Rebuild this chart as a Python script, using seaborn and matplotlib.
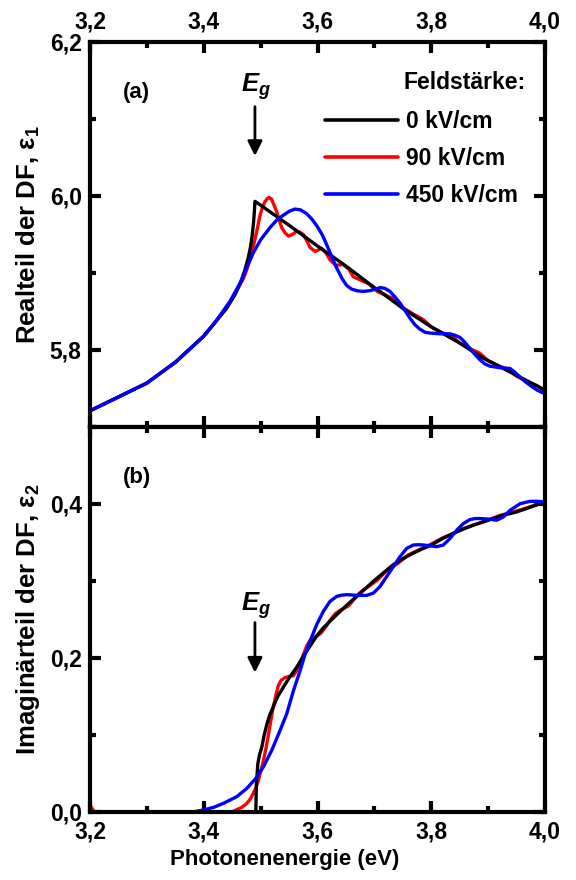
import matplotlib
matplotlib.use("Agg")
import matplotlib.pyplot as plt
from matplotlib.ticker import MultipleLocator, FuncFormatter
from matplotlib.lines import Line2D
import pandas as pd
import seaborn as sns

# ---------------- data: real part eps1 ----------------
e1_E_0 = [3.20, 3.25, 3.30, 3.35, 3.40, 3.42, 3.44, 3.455, 3.465, 3.472, 3.478,
          3.482, 3.485, 3.4875, 3.489, 3.490, 3.50, 3.55, 3.60, 3.65, 3.70,
          3.71, 3.75, 3.80, 3.85, 3.89, 3.95, 4.00]
e1_V_0 = [5.721, 5.739, 5.757, 5.784, 5.818, 5.836, 5.854, 5.872, 5.888, 5.903,
          5.919, 5.933, 5.948, 5.965, 5.980, 5.993, 5.988, 5.962, 5.935, 5.909,
          5.881, 5.876, 5.854, 5.830, 5.809, 5.790, 5.767, 5.748]

e1_E_90 = [3.20, 3.25, 3.30, 3.35, 3.40, 3.42, 3.44, 3.46, 3.47, 3.476, 3.482,
           3.488, 3.494, 3.499, 3.504, 3.508, 3.512, 3.515, 3.519, 3.522, 3.528,
           3.533, 3.537, 3.543, 3.549, 3.556, 3.563, 3.569, 3.575, 3.581, 3.587,
           3.596, 3.607, 3.615, 3.622, 3.632, 3.645, 3.655, 3.663, 3.675, 3.69,
           3.705, 3.72, 3.735, 3.75, 3.77, 3.785, 3.80, 3.82, 3.835, 3.85, 3.87,
           3.885, 3.90, 3.92, 3.935, 3.95, 3.97, 3.985, 4.00]
e1_V_90 = [5.721, 5.739, 5.757, 5.784, 5.818, 5.836, 5.854, 5.880, 5.893, 5.905,
           5.920, 5.937, 5.957, 5.975, 5.987, 5.993, 5.997, 5.998, 5.996, 5.991,
           5.980, 5.968, 5.959, 5.952, 5.948, 5.950, 5.954, 5.953, 5.950, 5.942,
           5.933, 5.928, 5.932, 5.926, 5.917, 5.910, 5.911, 5.905, 5.895, 5.891,
           5.886, 5.876, 5.871, 5.866, 5.855, 5.846, 5.840, 5.830, 5.822, 5.819,
           5.809, 5.801, 5.796, 5.786, 5.779, 5.775, 5.766, 5.758, 5.754, 5.747]

e1_E_450 = [3.20, 3.25, 3.30, 3.35, 3.40, 3.42, 3.446, 3.464, 3.475, 3.487,
            3.50, 3.5165, 3.530, 3.540, 3.550, 3.560, 3.570, 3.581, 3.590,
            3.599, 3.608, 3.616, 3.625, 3.634, 3.643, 3.651, 3.660, 3.669, 3.680,
            3.692, 3.702, 3.710, 3.7185, 3.7275, 3.736, 3.745, 3.754, 3.763,
            3.771, 3.780, 3.789, 3.798, 3.815, 3.833, 3.842, 3.851, 3.859, 3.868,
            3.877, 3.886, 3.894, 3.903, 3.920, 3.9385, 3.947, 3.956, 3.965,
            3.974, 3.986, 4.00]
e1_V_450 = [5.721, 5.739, 5.757, 5.784, 5.818, 5.836, 5.863, 5.887, 5.906, 5.926,
            5.943, 5.959, 5.970, 5.975, 5.980, 5.983, 5.982, 5.977, 5.970,
            5.961, 5.950, 5.937, 5.921, 5.906, 5.893, 5.884, 5.879, 5.877, 5.876,
            5.877, 5.879, 5.881, 5.880, 5.876, 5.869, 5.861, 5.851, 5.841,
            5.833, 5.827, 5.823, 5.822, 5.821, 5.821, 5.819, 5.816, 5.810, 5.802,
            5.794, 5.787, 5.782, 5.779, 5.777, 5.776, 5.771, 5.765, 5.759,
            5.754, 5.748, 5.743]

# ---------------- data: imaginary part eps2 ----------------
e2_E_0 = [3.20, 3.40, 3.4915, 3.4925, 3.495, 3.498, 3.502, 3.506, 3.511, 3.516,
          3.522, 3.530, 3.540, 3.550, 3.563, 3.575, 3.587, 3.598, 3.610, 3.625,
          3.640, 3.655, 3.669, 3.684, 3.698, 3.715, 3.733, 3.750, 3.768, 3.785,
          3.80, 3.822, 3.845, 3.872, 3.90, 3.925, 3.95, 3.975, 4.00]
e2_V_0 = [0.0, 0.0, 0.0, 0.035, 0.062, 0.074, 0.084, 0.099, 0.114, 0.126,
          0.136, 0.150, 0.162, 0.174, 0.1875, 0.202, 0.2155, 0.228, 0.239, 0.250,
          0.2606, 0.271, 0.280, 0.290, 0.2994, 0.310, 0.321, 0.329, 0.336, 0.342,
          0.3465, 0.356, 0.364, 0.372, 0.379, 0.385, 0.3897, 0.396, 0.4026]

e2_E_90 = [3.200, 3.204, 3.208, 3.45, 3.458, 3.467, 3.4755, 3.482, 3.487, 3.492,
           3.496, 3.500, 3.505, 3.510, 3.514, 3.518, 3.522, 3.527, 3.531, 3.536,
           3.543, 3.550, 3.5575, 3.563, 3.569, 3.575, 3.581, 3.587, 3.593, 3.600,
           3.607, 3.616, 3.625, 3.632, 3.640, 3.648, 3.655, 3.663, 3.672, 3.68,
           3.69, 3.705, 3.725, 3.74, 3.76, 3.78, 3.80, 3.82, 3.84, 3.86, 3.88,
           3.90, 3.92, 3.94, 3.96, 3.98, 4.00]
e2_V_90 = [0.009, 0.004, 0.0, 0.0, 0.003, 0.006, 0.011, 0.017, 0.024, 0.032,
           0.041, 0.052, 0.067, 0.085, 0.1015, 0.119, 0.136, 0.152, 0.164, 0.171,
           0.1746, 0.176, 0.177, 0.183, 0.192, 0.204, 0.2155, 0.223, 0.226, 0.229,
           0.233, 0.242, 0.252, 0.258, 0.262, 0.265, 0.268, 0.275, 0.283, 0.288,
           0.293, 0.301, 0.316, 0.322, 0.334, 0.341, 0.348, 0.356, 0.362, 0.369,
           0.374, 0.379, 0.385, 0.389, 0.393, 0.398, 0.403]

e2_E_450 = [3.20, 3.3817, 3.3993, 3.418, 3.4345, 3.4579, 3.4755, 3.4913, 3.5048,
            3.5195, 3.5341, 3.5458, 3.5576, 3.5693, 3.5781, 3.5869, 3.5986,
            3.6103, 3.622, 3.6338, 3.6426, 3.6514, 3.660, 3.669, 3.6865, 3.6983,
            3.71, 3.7217, 3.7334, 3.7451, 3.7569, 3.7686, 3.7775, 3.7862, 3.798,
            3.8096, 3.8213, 3.8331, 3.8448, 3.8565, 3.8682, 3.877, 3.8858,
            3.9034, 3.9151, 3.9269, 3.9386, 3.9562, 3.9738, 3.986, 4.00]
e2_V_450 = [0.0, 0.0, 0.0026, 0.0062, 0.0112, 0.0198, 0.0305, 0.0434, 0.0585,
            0.080, 0.1058, 0.1273, 0.1574, 0.1832, 0.2047, 0.2219, 0.2434,
            0.2606, 0.2735, 0.280, 0.2816, 0.2822, 0.2818, 0.2813, 0.2813, 0.2843,
            0.2929, 0.3058, 0.3187, 0.3316, 0.3424, 0.3467, 0.3471, 0.3467, 0.3456,
            0.3445, 0.3467, 0.3553, 0.366, 0.3746, 0.3798, 0.3810, 0.3811,
            0.3802, 0.3789, 0.3832, 0.3918, 0.4004, 0.4034, 0.4035, 0.4026]

field_labels = ["0 kV/cm", "90 kV/cm", "450 kV/cm"]
field_colors = ["#000000", "#ff0000", "#0000ff"]

# ---------------- style ----------------
sns.set_theme(style="ticks")
plt.rcParams.update({
    "font.family": ["Liberation Sans", "DejaVu Sans"],
    "font.weight": "bold",
    "font.size": 16,
    "text.color": "black",
    "axes.labelcolor": "black",
    "axes.edgecolor": "black",
    "xtick.color": "black",
    "ytick.color": "black",
    "axes.labelweight": "bold",
    "axes.linewidth": 3.0,
    "mathtext.fontset": "custom",
    "mathtext.rm": "Liberation Sans",
    "mathtext.it": "Liberation Sans:italic:bold",
    "mathtext.bf": "Liberation Sans:bold",
})

fig = plt.figure(figsize=(5.76, 8.80), dpi=100)
gs = fig.add_gridspec(2, 1, left=0.15625, right=0.9462, top=0.9523,
                      bottom=0.0773, hspace=0.0)
ax1 = fig.add_subplot(gs[0])
ax2 = fig.add_subplot(gs[1], sharex=ax1)

comma = FuncFormatter(lambda v, p: f"{v:.1f}".replace(".", ","))


def draw(ax, series):
    # red first, black over it, blue on top
    for idx in (1, 0, 2):
        E, V = series[idx]
        df = pd.DataFrame({"E": E, "V": V})
        sns.lineplot(data=df, x="E", y="V", ax=ax, color=field_colors[idx],
                     lw=2.4, estimator=None, sort=False, legend=False)


draw(ax1, [(e1_E_0, e1_V_0), (e1_E_90, e1_V_90), (e1_E_450, e1_V_450)])
draw(ax2, [(e2_E_0, e2_V_0), (e2_E_90, e2_V_90), (e2_E_450, e2_V_450)])

ax1.set_xlim(3.2, 4.0)
ax1.set_ylim(5.7, 6.2)
ax2.set_ylim(0.0, 0.5)

for ax in (ax1, ax2):
    ax.xaxis.set_major_locator(MultipleLocator(0.2))
    ax.xaxis.set_minor_locator(MultipleLocator(0.1))
    ax.yaxis.set_major_locator(MultipleLocator(0.2))
    ax.yaxis.set_minor_locator(MultipleLocator(0.1))
    ax.xaxis.set_major_formatter(comma)
    ax.yaxis.set_major_formatter(comma)
    ax.tick_params(which="both", direction="in", top=True, right=True,
                   width=3.0, labelsize=16.5, pad=6, color="black",
                   labelcolor="black")
    ax.tick_params(which="major", length=8)
    ax.tick_params(which="minor", length=4.5)
    for lab in ax.get_xticklabels() + ax.get_yticklabels():
        lab.set_fontweight("bold")
    for sp in ax.spines.values():
        sp.set_linewidth(3.0)
        sp.set_color("black")

ax1.tick_params(axis="x", labeltop=True, labelbottom=False)
ax2.tick_params(axis="x", labeltop=False, labelbottom=True)
ax1.set_xlabel("")
ax2.set_xlabel("Photonenenergie (eV)", fontsize=16, fontweight="bold",
               color="black")
ax2.xaxis.set_label_coords(0.4286, -0.096)
ax1.set_ylabel(r"Realteil der DF, $\mathrm{\varepsilon_1}$", fontsize=18.5,
               fontweight="bold", color="black")
ax2.set_ylabel(r"Imaginärteil der DF, $\mathrm{\varepsilon_2}$", fontsize=18.5,
               fontweight="bold", color="black")
ax1.yaxis.set_label_coords(-0.105, 0.5)
ax2.yaxis.set_label_coords(-0.105, 0.5)

# panel tags
ax1.text(0.103, 0.869, "(a)", transform=ax1.transAxes, ha="center", va="center",
         fontsize=16, fontweight="bold")
ax2.text(0.103, 0.868, "(b)", transform=ax2.transAxes, ha="center", va="center",
         fontsize=16, fontweight="bold")

# band gap markers
arrow = dict(arrowstyle="-|>", lw=2.0, color="black", mutation_scale=22,
             shrinkA=0, shrinkB=0)
ax1.text(3.492, 6.142, r"$E_g$", ha="center", va="center", fontsize=18.5)
ax1.annotate("", xy=(3.49, 6.052), xytext=(3.49, 6.116), arrowprops=arrow)
ax2.text(3.492, 0.268, r"$E_g$", ha="center", va="center", fontsize=18.5)
ax2.annotate("", xy=(3.49, 0.181), xytext=(3.49, 0.246), arrowprops=arrow)

# legend
handles = [Line2D([], [], color=c, lw=2.6) for c in field_colors]
leg = ax1.legend(handles, field_labels, loc="upper left",
                 bbox_to_anchor=(0.516, 0.824), frameon=False, borderpad=0,
                 borderaxespad=0, handlelength=3.2, handletextpad=0.35,
                 labelspacing=0.62, prop={"size": 16.5, "weight": "bold"})
for t in leg.get_texts():
    t.set_color("black")
ax1.text(0.688, 0.895, "Feldstärke:", transform=ax1.transAxes, ha="left",
         va="center", fontsize=16.5, fontweight="bold")

fig.savefig("out.png", dpi=100)
